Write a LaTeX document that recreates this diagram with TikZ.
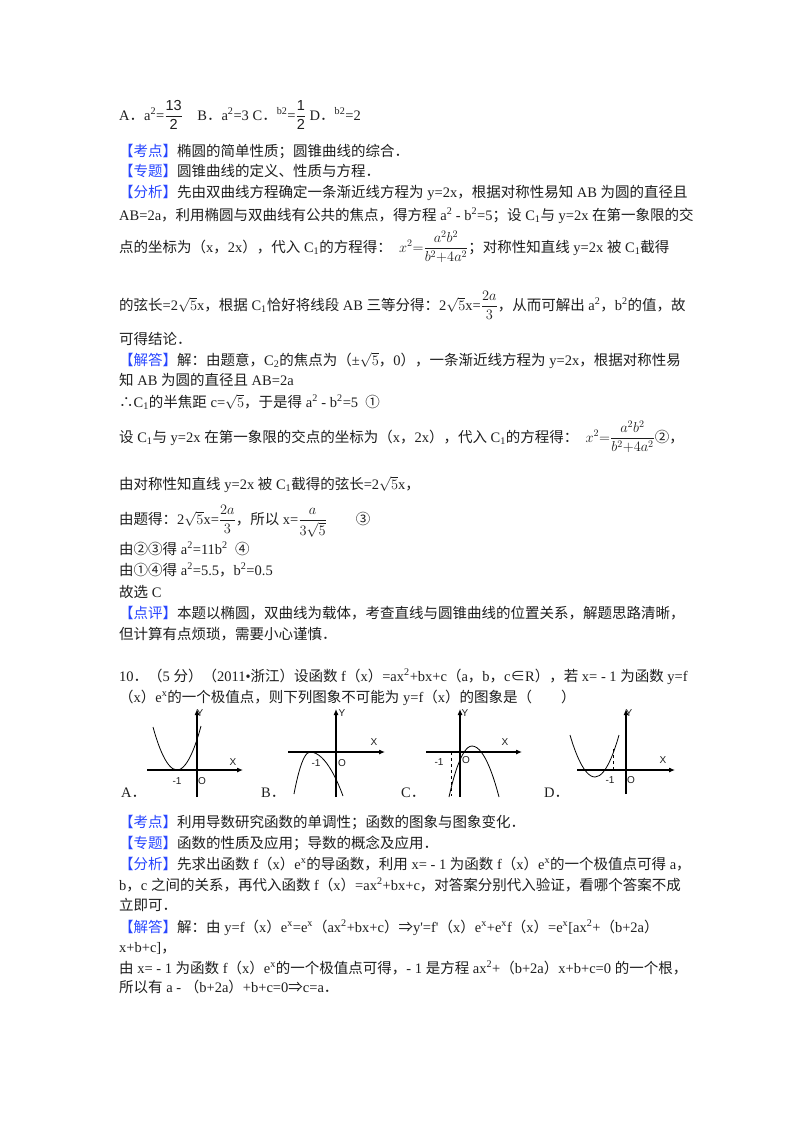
\documentclass[tikz,border=0pt]{standalone}
\usepackage{amsmath}
\usepackage{fontspec}
\setmainfont{Liberation Serif}
\newfontfamily\cjkf{Noto Sans CJK SC}
\newfontfamily\latf{Liberation Serif}
\newfontfamily\arif{Liberation Sans}
\usetikzlibrary{arrows.meta}
\newXeTeXintercharclass\cjkc
\makeatletter
\def\setcls#1#2{\count@=#1\relax\loop\ifnum\count@<#2\relax\XeTeXcharclass\count@=\cjkc\advance\count@ 1\repeat}
\setcls{"4E00}{"A000}
\setcls{"3000}{"3040}
\setcls{"FF00}{"FFF0}
\setcls{"2460}{"2500}
\setcls{"2190}{"2300}
\makeatother
\XeTeXinterchartokenstate=1
\XeTeXinterchartoks 0 \cjkc={\cjkf}
\XeTeXinterchartoks 4095 \cjkc={\cjkf}
\XeTeXinterchartoks \cjkc 0={\latf}
\XeTeXinterchartoks \cjkc 4095={\latf}
\definecolor{tagblue}{RGB}{40,70,255}
\definecolor{txt}{RGB}{30,30,30}
\newcommand\tg[1]{\textcolor{tagblue}{【#1】}}
\newcommand\sps[1]{\textsuperscript{#1}}
\newcommand\sbs[1]{\textsubscript{#1}}
\newcommand\fss{\fontsize{14.5}{17}\selectfont}
\begin{document}
\begin{tikzpicture}[x=1pt,y=-1pt,
  ln/.style={anchor=base west,inner sep=0pt,font=\fss,text=txt},
  gl/.style={inner sep=0pt,font=\arif\fontsize{10}{10}\selectfont,text=txt},
  ax/.style={line width=1.1pt,-{Latex[length=6,width=5]}},
  cv/.style={line width=0.8pt},
  dsh/.style={line width=0.6pt,dashed}]
\useasboundingbox[fill=white] (0,0) rectangle (800,1132);
\node[ln] (l1) at (119,120) {A．a\sps{2}=$\dfrac{\text{\arif 13}}{\text{\arif 2}}$\quad B．a\sps{2}=3 C．\sps{b2}=$\dfrac{\text{\arif 1}}{\text{\arif 2}}$ D．\sps{b2}=2};
\node[ln] (l2) at (119,156) {\tg{考点}椭圆的简单性质；圆锥曲线的综合．};
\node[ln] (l3) at (119,176) {\tg{专题}圆锥曲线的定义、性质与方程．};
\node[ln] (l4) at (119,197) {\tg{分析}先由双曲线方程确定一条渐近线方程为 y=2x，根据对称性易知 AB 为圆的直径且};
\node[ln] (l5) at (119,220) {AB=2a，利用椭圆与双曲线有公共的焦点，得方程 a\sps{2} - b\sps{2}=5；设 C\sbs{1}与 y=2x 在第一象限的交};
\node[ln] (l6) at (119,252) {点的坐标为（x，2x），代入 C\sbs{1}的方程得：\ \ $x^2{=}\dfrac{a^2b^2}{b^2{+}4a^2}$；对称性知直线 y=2x 被 C\sbs{1}截得};
\node[ln] (l7) at (119,310) {的弦长=2$\sqrt{5}$x，根据 C\sbs{1}恰好将线段 AB 三等分得：2$\sqrt{5}$x=$\dfrac{2a}{3}$，从而可解出 a\sps{2}，b\sps{2}的值，故};
\node[ln] (l8) at (119,344) {可得结论．};
\node[ln] (l9) at (119,365) {\tg{解答}解：由题意，C\sbs{2}的焦点为（±$\sqrt{5}$，0），一条渐近线方程为 y=2x，根据对称性易};
\node[ln] (l10) at (119,385) {知 AB 为圆的直径且 AB=2a};
\node[ln] (l11) at (119,407) {∴C\sbs{1}的半焦距 c=$\sqrt{5}$，于是得 a\sps{2} - b\sps{2}=5 \ ①};
\node[ln] (l12) at (119,442) {设 C\sbs{1}与 y=2x 在第一象限的交点的坐标为（x，2x），代入 C\sbs{1}的方程得：\ \ $x^2{=}\dfrac{a^2b^2}{b^2{+}4a^2}$②，};
\node[ln] (l13) at (119,489) {由对称性知直线 y=2x 被 C\sbs{1}截得的弦长=2$\sqrt{5}$x，};
\node[ln] (l14) at (119,524) {由题得：2$\sqrt{5}$x=$\dfrac{2a}{3}$，所以 x=$\dfrac{a}{3\sqrt{5}}$\qquad ③};
\node[ln] (l15) at (119,554) {由②③得 a\sps{2}=11b\sps{2} \ ④};
\node[ln] (l16) at (119,575) {由①④得 a\sps{2}=5.5，b\sps{2}=0.5};
\node[ln] (l17) at (119,597) {故选 C};
\node[ln] (l18) at (119,618) {\tg{点评}本题以椭圆，双曲线为载体，考查直线与圆锥曲线的位置关系，解题思路清晰，};
\node[ln] (l19) at (119,639) {但计算有点烦琐，需要小心谨慎．};
\node[ln] (l20) at (119,681) {10．（5 分）（2011•浙江）设函数 f（x）=ax\sps{2}+bx+c（a，b，c∈R），若 x= - 1 为函数 y=f};
\node[ln] (l21) at (119,702) {（x）e\sps{x}的一个极值点，则下列图象不可能为 y=f（x）的图象是（\qquad ）};
% graphs
\node[ln] (la) at (121,797) {A．};
\node[ln] (lb) at (261,797) {B．};
\node[ln] (lc) at (401,797) {C．};
\node[ln] (ld) at (544,797) {D．};
% A
\coordinate (ay0) at (197,797); \coordinate (ay1) at (197,709);
\coordinate (ax0) at (147,770); \coordinate (ax1) at (243,770);
\draw[ax] (ax0) -- (ax1); \draw[ax] (ay0) -- (ay1);
\draw[cv] (153,727) parabola bend (177,770) (201,726);
\node[gl] (am) at (177,781) {-1}; \node[gl] (ao) at (202,781) {O};
\node[gl] (ax) at (233,762) {X}; \node[gl] (ay) at (200,713) {Y};
% B
\coordinate (by0) at (336,797); \coordinate (by1) at (336,709);
\coordinate (bx0) at (288,752); \coordinate (bx1) at (385,752);
\draw[ax] (bx0) -- (bx1); \draw[ax] (by0) -- (by1);
\draw[cv] (294,794) parabola bend (310,752) (343,796);
\node[gl] (bm) at (316,763) {-1}; \node[gl] (bo) at (342,763) {O};
\node[gl] (bx) at (374,742) {X}; \node[gl] (by) at (342,713) {Y};
% C
\coordinate (cy0) at (460,797); \coordinate (cy1) at (460,709);
\coordinate (cx0) at (426,752); \coordinate (cx1) at (522,752);
\draw[ax] (cx0) -- (cx1); \draw[ax] (cy0) -- (cy1);
\draw[cv] (449,797) parabola bend (472,746) (499,797);
\coordinate (cd0) at (451,752); \coordinate (cd1) at (451,796);
\draw[dsh] (cd0) -- (cd1);
\node[gl] (cm) at (439,762) {-1}; \node[gl] (co) at (466,760) {O};
\node[gl] (cxl) at (505,742) {X}; \node[gl] (cyl) at (465,713) {Y};
% D
\coordinate (dy0) at (626,794); \coordinate (dy1) at (626,709);
\coordinate (dx0) at (577,770); \coordinate (dx1) at (675,770);
\draw[ax] (dx0) -- (dx1); \draw[ax] (dy0) -- (dy1);
\draw[cv] (570,735) parabola bend (595,777) (619,735);
\coordinate (dd0) at (613,770); \coordinate (dd1) at (613,748);
\draw[dsh] (dd0) -- (dd1);
\node[gl] (dm) at (610,780) {-1}; \node[gl] (do) at (631,780) {O};
\node[gl] (dxl) at (663,760) {X}; \node[gl] (dyl) at (629,713) {Y};
% second part
\node[ln] (m1) at (119,827) {\tg{考点}利用导数研究函数的单调性；函数的图象与图象变化．};
\node[ln] (m2) at (119,848) {\tg{专题}函数的性质及应用；导数的概念及应用．};
\node[ln] (m3) at (119,869) {\tg{分析}先求出函数 f（x）e\sps{x}的导函数，利用 x= - 1 为函数 f（x）e\sps{x}的一个极值点可得 a，};
\node[ln] (m4) at (119,890) {b，c 之间的关系，再代入函数 f（x）=ax\sps{2}+bx+c，对答案分别代入验证，看哪个答案不成};
\node[ln] (m5) at (119,910) {立即可．};
\node[ln] (m6) at (119,932) {\tg{解答}解：由 y=f（x）e\sps{x}=e\sps{x}（ax\sps{2}+bx+c）⇒y'=f'（x）e\sps{x}+e\sps{x}f（x）=e\sps{x}[ax\sps{2}+（b+2a）};
\node[ln] (m7) at (119,952) {x+b+c]，};
\node[ln] (m9) at (119,973) {由 x= - 1 为函数 f（x）e\sps{x}的一个极值点可得，- 1 是方程 ax\sps{2}+（b+2a）x+b+c=0 的一个根，};
\node[ln] (m10) at (119,992) {所以有 a - （b+2a）+b+c=0⇒c=a．};
\end{tikzpicture}
\end{document}
